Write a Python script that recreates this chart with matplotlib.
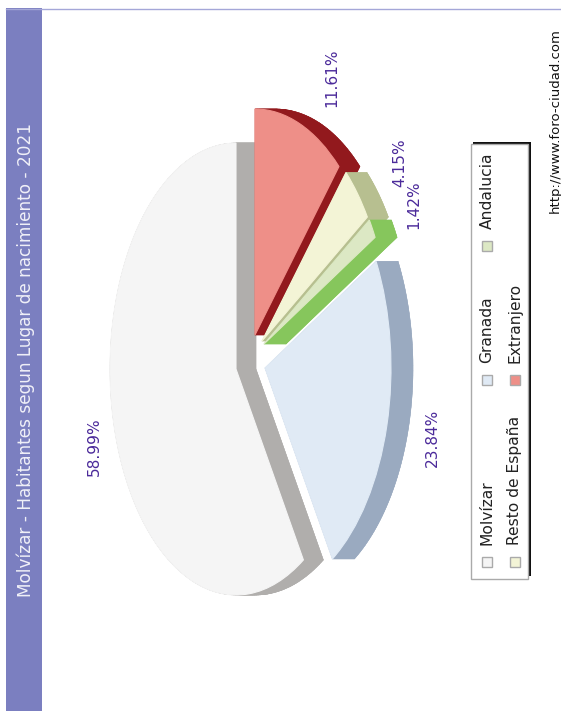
import numpy as np
import matplotlib
matplotlib.use("Agg")
import matplotlib.pyplot as plt
from matplotlib.collections import PolyCollection
from matplotlib.patches import Rectangle
from matplotlib.transforms import Affine2D

W, H = 561, 711

title = "Molvízar - Habitantes segun Lugar de nacimiento - 2021"
source = "http://www.foro-ciudad.com"
names = ["Molvízar", "Granada", "Andalucia", "Resto de España", "Extranjero"]
shares = [58.99, 23.84, 1.42, 4.15, 11.61]
labels = ["58.99%", "23.84%", "1.42%", "4.15%", "11.61%"]

top_colors = ["#f5f5f5", "#e0eaf5", "#dce8c4", "#f3f4d6", "#ee8f88"]
side_colors = ["#b0aeac", "#9aaac0", "#86c65c", "#b7bf90", "#92191d"]
draw_order = [0, 1, 4, 3, 2]

# where each pulled out slice has its tip on the page, in pixels
tip_x = [236, 265, 264, 262, 255]
tip_y = [369, 368, 344, 341, 335]
depths = [20, 22, 22, 21, 21]

# pixel spots for the text, same order as shares
label_x = [94, 432, 414, 400, 332]
label_y = [447, 438, 205, 163, 78]
legend_x = [487, 487, 487, 515, 515]
legend_y = [562, 380, 246, 562, 380]

# radii on the page, the chart is turned on its side
rx, ry = 126, 226

fig = plt.figure(figsize=(W / 100, H / 100), dpi=100)

# page axes in pixels
page = fig.add_axes([0, 0, 1, 1])
page.set_xlim(0, W)
page.set_ylim(H, 0)
page.axis("off")

page.add_patch(Rectangle((6, 8), 36, H - 8, fc="#7b7fc0", ec="none"))
page.plot([6, W], [9, 9], color="#a4a7d8", lw=1)
page.text(26, 360, title, rotation=90, color="#f0f0f8", fontsize=12.2,
          ha="center", va="center")
page.text(555, 121, source, rotation=90, color="#111111", fontsize=9.5,
          ha="center", va="center")

for x, y, s in zip(label_x, label_y, labels):
    page.text(x, y, s, rotation=90, color="#4b2a9a", fontsize=11.1,
              ha="center", va="center")

# legend box with its shadow
page.add_patch(Rectangle((473, 142), 58, 434, fc="#111111", ec="none", zorder=1))
page.add_patch(Rectangle((471, 144), 57, 435, fc="white", ec="#aaaaaa", lw=1, zorder=2))
for i, name in enumerate(names):
    page.add_patch(Rectangle((legend_x[i] - 5, legend_y[i] - 5), 10, 10,
                             fc=top_colors[i], ec="#aaaaaa", lw=1, zorder=3))
    page.text(legend_x[i], legend_y[i] - 17, name, rotation=90, color="#222222",
              fontsize=11.2, ha="center", va="bottom", zorder=3)

# pie axes, stretched so the circle comes out as the ellipse
ax = fig.add_axes([0, 0, 1, 1])
wedges, _ = ax.pie(shares, colors=top_colors, startangle=90,
                   counterclock=True, radius=1)
ax.set_aspect("auto")
ax.set_xlim(0, W / rx)
ax.set_ylim(-H / ry, 0)
ax.patch.set_alpha(0)

for z, i in enumerate(draw_order):
    wedges[i].set_center((tip_x[i] / rx, -tip_y[i] / ry))
    # scale up first, to_polygons flattens curves to about a unit of size
    big = Affine2D().scale(2000).transform_path(wedges[i].get_path())
    poly = big.to_polygons()[0] / 2000
    moved = poly + [depths[i] / rx, 0]
    quads = [np.array([poly[k], poly[k + 1], moved[k + 1], moved[k]])
             for k in range(len(poly) - 1)]
    ax.add_collection(PolyCollection(quads + [moved], facecolors=side_colors[i],
                                     edgecolors=side_colors[i], linewidths=0.3,
                                     zorder=2 * z + 1))
    # same colour edge hides the side peeping out round the slice
    wedges[i].set_edgecolor(top_colors[i])
    wedges[i].set_linewidth(0.8)
    wedges[i].set_zorder(2 * z + 2)

fig.savefig("out.png", dpi=100)
